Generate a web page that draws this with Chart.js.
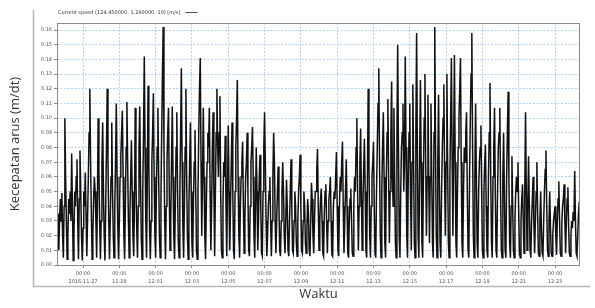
<!DOCTYPE html>
<html><head><meta charset="utf-8">
<script src="https://cdn.jsdelivr.net/npm/chart.js@4.4.0/dist/chart.umd.min.js"></script>
<style>html,body{margin:0;padding:0;background:#fff;}#wrap{width:595px;height:308px;}</style>
</head><body><div id="wrap"><canvas id="c" width="595" height="308"></canvas></div>
<script>
const seriesLabel = 'Current speed (124.450000, 1.240000, 10) [m/s]';
const xTitle = 'Waktu';
const yTitle = 'Kecepatan arus (m/dt)';
// hourly samples, first sample at hour -34 relative to 2016-11-27 00:00
const startHour = -34;
const speedPart1 = [
0.02,0.035,0.01,0.03,0.045,0.03,0.049,0.02,0.005,0.04,
0.10,0.06,0.03,0.004,0.02,0.045,0.035,0.05,0.03,0.076,
0.04,0.003,0.02,0.05,0.04,0.06,0.072,0.03,0.004,0.045,
0.078,0.05,0.02,0.003,0.025,0.05,0.04,0.063,0.035,0.006,
0.03,0.06,0.09,0.12,0.07,0.035,0.004,0.02,0.045,0.06,
0.05,0.03,0.005,0.04,0.10,0.065,0.03,0.004,0.03,0.07,
0.097,0.05,0.02,0.003,0.04,0.08,0.12,0.07,0.03,0.004,
0.03,0.06,0.097,0.05,0.02,0.005,0.04,0.07,0.11,0.06,
0.025,0.004,0.03,0.06,0.075,0.09,0.105,0.06,0.02,0.004,
0.04,0.08,0.111,0.07,0.03,0.005,0.035,0.06,0.085,0.05,
0.02,0.006,0.04,0.107,0.06,0.025,0.005,0.04,0.08,0.108,
0.06,0.02,0.004,0.05,0.09,0.142,0.08,0.03,0.005,0.06,
0.122,0.07,0.025,0.004,0.03,0.07,0.09,0.117,0.06,0.02,
0.005,0.05,0.08,0.107,0.06,0.02,0.005,0.045,0.09,0.13,
0.162,0.08,0.03,0.004,0.04,0.07,0.09,0.107,0.05,0.01,
0.03,0.07,0.108,0.06,0.02,0.004,0.04,0.08,0.104,0.05,
0.015,0.005,0.05,0.09,0.134,0.07,0.025,0.005,0.04,0.08,
0.12,0.06,0.02,0.004,0.04,0.07,0.097,0.05,0.015,0.005,
0.045,0.07,0.092,0.05,0.01,0.004,0.05,0.09,0.12,0.141,
0.07,0.02,0.06,0.107,0.06,0.02,0.004,0.04,0.07,0.09,
0.08,0.107,0.05,0.01,0.04,0.08,0.104,0.05,0.006,0.05,
0.09,0.12,0.08,0.06,0.09,0.115,0.05,0.01,0.005,0.04,
0.07,0.06,0.088,0.04,0.006,0.05,0.095,0.05,0.01,0.04,
0.07,0.097,0.05,0.01,0.004,0.05,0.08,0.1,0.126,0.06,
0.02,0.005,0.04,0.06,0.07,0.084,0.04,0.008,0.03,0.06,
0.07,0.09,0.05,0.01,0.006,0.04,0.07,0.08,0.094,0.06,
0.02,0.005,0.04,0.08,0.05,0.01,0.03,0.06,0.075,0.04,
0.008,0.006,0.05,0.08,0.104,0.07,0.03,0.006,0.02,0.04,
0.05,0.06,0.03,0.006,0.03,0.06,0.09,0.07,0.03,0.008,
0.03,0.05,0.067,0.04,0.01,0.006,0.03,0.05,0.07,0.05,
0.02,0.008,0.03,0.058,0.04,0.01,0.006,0.03,0.05,0.072,
0.04,0.01,0.008,0.03,0.05,0.04,0.015,0.006,0.03,0.05,
0.06,0.075,0.04,0.01,0.008,0.03,0.05,0.04,0.015,0.008,
0.025,0.045,0.035,0.01,0.006,0.03,0.056,0.045,0.02,0.008,0.03,0.05
];
const speedPart2 = [
0.05,0.065,0.079,0.04,0.01,0.03,0.045,0.052,0.03,0.008,
0.006,0.035,0.05,0.055,0.03,0.008,0.03,0.045,0.05,0.06,
0.03,0.007,0.006,0.04,0.05,0.045,0.06,0.077,0.04,0.01,
0.006,0.04,0.06,0.05,0.07,0.084,0.04,0.008,0.03,0.05,
0.072,0.04,0.008,0.005,0.03,0.045,0.052,0.03,0.008,0.006,
0.04,0.06,0.05,0.08,0.10,0.05,0.01,0.04,0.07,0.093,
0.05,0.01,0.04,0.065,0.086,0.05,0.01,0.005,0.06,0.12,
0.07,0.02,0.005,0.04,0.06,0.07,0.084,0.04,0.008,0.005,
0.05,0.08,0.11,0.134,0.07,0.02,0.005,0.05,0.08,0.104,
0.06,0.015,0.005,0.06,0.09,0.113,0.06,0.015,0.05,0.09,
0.125,0.06,0.04,0.107,0.06,0.015,0.005,0.09,0.15,0.08,
0.02,0.005,0.05,0.08,0.09,0.11,0.05,0.07,0.142,0.08,
0.02,0.005,0.06,0.09,0.11,0.05,0.01,0.07,0.123,0.07,
0.015,0.005,0.09,0.158,0.08,0.02,0.005,0.07,0.126,0.07,
0.015,0.005,0.06,0.1,0.13,0.07,0.02,0.06,0.116,0.06,
0.015,0.06,0.11,0.06,0.015,0.005,0.09,0.162,0.08,0.02,
0.005,0.07,0.116,0.06,0.015,0.005,0.05,0.08,0.1,0.123,
0.06,0.02,0.07,0.13,0.07,0.015,0.005,0.06,0.1,0.141,
0.07,0.02,0.08,0.143,0.07,0.015,0.005,0.05,0.08,0.1,
0.12,0.141,0.07,0.015,0.005,0.05,0.08,0.07,0.09,0.104,
0.05,0.01,0.005,0.06,0.1,0.13,0.158,0.08,0.02,0.005,
0.06,0.11,0.06,0.015,0.005,0.05,0.07,0.08,0.095,0.05,
0.01,0.005,0.05,0.07,0.082,0.04,0.01,0.005,0.06,0.09,
0.124,0.06,0.015,0.005,0.06,0.08,0.107,0.05,0.01,0.005,
0.05,0.08,0.09,0.107,0.05,0.01,0.005,0.06,0.09,0.05,
0.01,0.005,0.06,0.09,0.118,0.06,0.015,0.005,0.04,0.074,
0.04,0.01,0.005,0.03,0.05,0.06,0.05,0.07,0.035,0.008,
0.005,0.03,0.045,0.055,0.03,0.008,0.05,0.104,0.05,0.01,
0.04,0.074,0.04,0.01,0.005,0.03,0.045,0.06,0.03,0.008,
0.03,0.05,0.07,0.035,0.008,0.006,0.03,0.05,0.025,0.008,
0.006,0.03,0.05,0.065,0.078,0.04,0.01,0.006,0.03,0.05,
0.025,0.008,0.006,0.02,0.03,0.035,0.04,0.02,0.007,0.03,
0.045,0.057,0.03,0.008,0.006,0.03,0.04,0.045,0.055,0.03,
0.008,0.03,0.045,0.053,0.025,0.008,0.006,0.02,0.03,0.025,
0.036,0.03,0.064,0.03,0.008,0.006,0.02,0.035,0.043,0.02
];
const tickHours = [0,48,96,144,192,240,288,336,384,432,480,528,576,624];
const tickTimes = ['00:00','00:00','00:00','00:00','00:00','00:00','00:00','00:00','00:00','00:00','00:00','00:00','00:00','00:00'];
const tickDates = ['2016-11-27','11-29','12-01','12-03','12-05','12-07','12-09','12-11','12-13','12-15','12-17','12-19','12-21','12-23'];
const yTickValues = [0,0.01,0.02,0.03,0.04,0.05,0.06,0.07,0.08,0.09,0.10,0.11,0.12,0.13,0.14,0.15,0.16];

const speed = speedPart1.concat(speedPart2);
const points = speed.map((v,i)=>({x:startHour+i,y:v}));

const decor = {
  id:'decor',
  beforeDraw(chart){
    const c=chart.ctx;
    c.save();
    c.strokeStyle='#b5b5b5'; c.lineWidth=1.5;
    c.beginPath(); c.moveTo(33.5,10); c.lineTo(33.5,286.5); c.lineTo(590,286.5); c.stroke();
    c.restore();
  },
  afterDraw(chart){
    const c=chart.ctx, a=chart.chartArea;
    c.save();
    c.strokeStyle='#8a8a8a'; c.lineWidth=1;
    c.strokeRect(Math.round(a.left)+0.5,Math.round(a.top)+0.5,Math.round(a.right-a.left)-1,Math.round(a.bottom-a.top));
    c.font='5px "DejaVu Sans"'; c.fillStyle='#333'; c.textBaseline='middle';
    const lbl=chart.data.datasets[0].label;
    c.fillText(lbl,58,12.5);
    const w=c.measureText(lbl).width;
    c.strokeStyle='#222'; c.lineWidth=0.8;
    c.beginPath(); c.moveTo(58+w+5,12.5); c.lineTo(58+w+17,12.5); c.stroke();
    c.restore();
  }
};

new Chart(document.getElementById('c'),{
  type:'line',
  data:{datasets:[{label:seriesLabel,data:points,borderColor:'#111',borderWidth:1.5,pointRadius:0,tension:0,fill:false}]},
  options:{
    responsive:false,animation:false,devicePixelRatio:1,
    layout:{padding:{top:23,right:15,left:0,bottom:0}},
    plugins:{legend:{display:false},tooltip:{enabled:false}},
    scales:{
      x:{type:'linear',min:-34.4,max:657,
        afterBuildTicks:s=>{s.ticks=tickHours.map(v=>({value:v}));},
        afterFit:s=>{s.height=43;},
        ticks:{callback:(v,i)=>[tickTimes[i],tickDates[i]],font:{size:5,family:'DejaVu Sans',lineHeight:1.5},color:'#555',maxRotation:0,autoSkip:false,padding:2},
        grid:{color:'#b0d2f2',lineWidth:1,tickLength:3,tickColor:'#888'},
        border:{display:false,dash:[2,1.5]},
        title:{display:true,text:xTitle,font:{size:13,family:'Open Sans'},color:'#333',padding:{top:0,bottom:6}}
      },
      y:{min:0,max:0.1648,
        afterBuildTicks:s=>{s.ticks=yTickValues.map(v=>({value:v}));},
        afterFit:s=>{s.width=57;},
        ticks:{callback:v=>v.toFixed(2),font:{size:5,family:'DejaVu Sans'},color:'#555',padding:2},
        grid:{color:'#b0d2f2',lineWidth:1,tickLength:3,tickColor:'#888'},
        border:{display:false,dash:[2,1.5]},
        title:{display:true,text:yTitle,font:{size:13,family:'Open Sans'},color:'#333',padding:{top:7,bottom:0}}
      }
    }
  },
  plugins:[decor]
});
</script></body></html>
